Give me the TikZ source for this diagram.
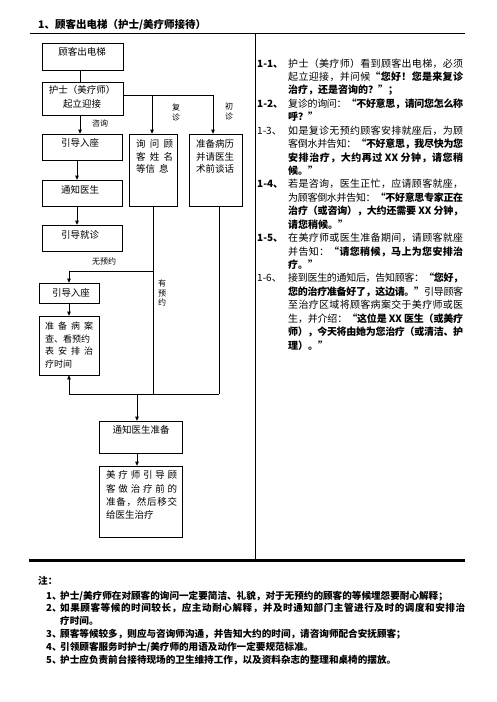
\documentclass[tikz,border=0pt]{standalone}
\usepackage{fontspec}
\setmainfont{Noto Sans CJK SC}
\usetikzlibrary{arrows.meta}
\newcount\cjkc
\cjkc="4E00
\loop \XeTeXcharclass\cjkc=1 \advance\cjkc by 1 \ifnum\cjkc<"A000 \repeat
\XeTeXcharclass"FF08=2 \XeTeXcharclass"201C=2
\XeTeXcharclass"FF0C=3 \XeTeXcharclass"3001=3 \XeTeXcharclass"3002=3
\XeTeXcharclass"FF1A=3 \XeTeXcharclass"FF1B=3 \XeTeXcharclass"FF01=3
\XeTeXcharclass"FF1F=3 \XeTeXcharclass"FF09=3 \XeTeXcharclass"201D=3
\XeTeXinterchartokenstate=1
\newcommand\cjkg{\hskip 0pt plus 4pt minus 0.7pt\relax}
\XeTeXinterchartoks 1 1 = {\cjkg}
\XeTeXinterchartoks 1 2 = {\cjkg}
\XeTeXinterchartoks 1 3 = {\cjkg}
\XeTeXinterchartoks 2 1 = {\cjkg}
\XeTeXinterchartoks 3 1 = {\cjkg}
\XeTeXinterchartoks 3 2 = {\cjkg}
\XeTeXinterchartoks 3 3 = {\cjkg}
\newcommand\jl[1]{\makebox[175pt][s]{#1}}
\newcommand\jw[2]{\makebox[#1pt][s]{#2}}
\newcommand\lab[1]{\makebox[31pt][l]{\textbf{#1}}}
\newcommand\labr[1]{\makebox[31pt][l]{#1}}
\newcommand\ind{\hspace*{31pt}}
\newcommand\gapx{\hspace{4pt}}
\newcommand\nnum[1]{\makebox[14pt][l]{#1}}
\tikzset{
  bx/.style={draw, line width=0.7pt, inner sep=0pt},
  ln/.style={line width=0.7pt},
  arr/.style={line width=0.7pt, -{Triangle[length=4pt,width=3.6pt]}},
  tx/.style={inner sep=0pt, font=\fontsize{9.5}{12.5}\selectfont},
  sm/.style={inner sep=0pt, align=center, font=\fontsize{8}{10}\selectfont},
}
\begin{document}
\begin{tikzpicture}[x=1pt,y=-1pt]
\useasboundingbox (0,0) rectangle (496,702);
% title and frame
\node[inner sep=0pt, anchor=west, font=\bfseries\fontsize{10.5}{12}\selectfont] (title) at (38,25) {1、顾客出电梯（护士/美疗师接待）};
\coordinate (tl) at (30,33); \coordinate (tr) at (465,33);
\coordinate (vt) at (255,33); \coordinate (vb) at (255,560);
\coordinate (bl) at (29,560); \coordinate (br) at (465,560);
\draw[line width=0.8pt] (tl) -- (tr);
\draw[line width=0.8pt] (vt) -- (vb);
\draw[line width=3pt] (bl) -- (br);
% boxes
\node[bx, minimum width=81pt, minimum height=27pt] (b1) at (82.5,56.5) {};
\node[bx, minimum width=81pt, minimum height=33pt] (b2) at (82.5,98.5) {};
\node[bx, minimum width=80pt, minimum height=26pt] (b3) at (82,147) {};
\node[bx, minimum width=80pt, minimum height=26pt] (b4) at (82,193) {};
\node[bx, minimum width=80pt, minimum height=26pt] (b5) at (82,238) {};
\node[bx, minimum width=48pt, minimum height=72pt] (b6) at (153,170) {};
\node[bx, minimum width=53pt, minimum height=72pt] (b7) at (215.5,170) {};
\node[bx, minimum width=60pt, minimum height=20pt] (b8) at (69,293) {};
\node[bx, minimum width=60pt, minimum height=59pt] (b9) at (69,345.5) {};
\node[bx, minimum width=83pt, minimum height=32pt] (b10) at (140.5,437) {};
\node[bx, minimum width=83pt, minimum height=71pt] (b11) at (140.5,501.5) {};
% box texts
\node[tx] (t1) at (82,52) {顾客出电梯};
\node[tx, anchor=north, align=center, font=\fontsize{9.5}{14}\selectfont] (t2) at (82,85.5) {护士（美疗师）\\起立迎接};
\node[tx] (t3) at (80,143) {引导入座};
\node[tx] (t4) at (80,190) {通知医生};
\node[tx] (t5) at (80,235) {引导就诊};
\node[tx, anchor=north west, align=left] (t6) at (136,139.5) {\jw{37}{询问顾}\\\jw{37}{客姓名}\\等信\gapx 息};
\node[tx, anchor=north west, align=left] (t7) at (196,139.5) {准备病历\\并请医生\\术前谈话};
\node[tx] (t8) at (71,293) {引导入座};
\node[tx, anchor=north west, align=left, font=\fontsize{9}{12.7}\selectfont] (t9) at (45,321.5) {\jw{48}{准备病案}\\查、看预约\\\jw{48}{表安排治}\\疗时间};
\node[tx] (t10) at (141,430) {通知医生准备};
\node[tx, anchor=north west, align=left, font=\fontsize{9.5}{13.3}\selectfont] (t11) at (106,470.5) {\jw{71}{美疗师引导顾}\\\jw{71}{客做治疗前的}\\\jw{71}{准备，然后移交}\\给医生治疗};
% small labels
\node[sm] (zx) at (100,123) {咨询};
\node[sm] (fz) at (176,112) {复\\诊};
\node[sm] (cz) at (229,111) {初\\诊};
\node[sm] (wy) at (104,261) {无预约};
\node[sm, font=\fontsize{8}{9.5}\selectfont] (yy) at (162,293) {有\\预\\约};
% connectors
\draw[ln] ([xshift=-2.5pt]b1.south) -- ([xshift=-2.5pt]b2.north);
\draw[arr] ([xshift=-2.5pt]b2.south) -- ([xshift=-2pt]b3.north);
\draw[arr] ([xshift=-5pt]b3.south) -- ([xshift=-5pt]b4.north);
\draw[arr] ([xshift=-5pt]b4.south) -- ([xshift=-5pt]b5.north);
\coordinate (j1) at (152,95);
\coordinate (j2) at (213,95);
\draw[ln] ([yshift=3.5pt]b2.east) -- (j2);
\draw[arr] (j1) -- (j1 |- b6.north);
\draw[arr] (j2) -- (j2 |- b7.north);
\coordinate (k1) at (69,394);
\coordinate (k2) at (219,394);
\coordinate (k4) at (137,394);
\coordinate (m1) at (153,271);
\draw[ln] (b6.south) -- (b6.south |- k1);
\draw[ln] (k2 |- b7.south) -- (k2);
\draw[arr] (k2) -- (k1) -- (b9.south);
\draw[arr] (m1) -- (m1 -| b8.north) -- (b8.north);
\draw[arr] (b8.south) -- (b9.north);
\draw[arr] (k4) -- (k4 |- b10.north);
\draw[arr] (k4 |- b10.south) -- (k4 |- b11.north);
% right text
\node[inner sep=0pt, anchor=north west, align=left, font=\fontsize{10}{13.43}\selectfont] (rt) at (257,58.3) {%
\lab{1-1、}\jl{护士（美疗师）看到顾客出电梯，必须}\\
\ind\jl{起立迎接，并问候\textbf{“您好！您是来复诊}}\\
\ind\textbf{治疗，还是咨询的？”；}\\
\lab{1-2、}\jl{复诊的询问：\textbf{“不好意思，请问您怎么称}}\\
\ind\textbf{呼？”}\\
\labr{1-3、}\jl{如是复诊无预约顾客安排就座后，为顾}\\
\ind\jl{客倒水并告知：\textbf{“不好意思，我尽快为您}}\\
\ind\jl{\textbf{安排治疗，大约再过 XX 分钟，请您稍}}\\
\ind\textbf{候。”}\\
\lab{1-4、}\jl{若是咨询，医生正忙，应请顾客就座，}\\
\ind\jl{为顾客倒水并告知：\textbf{“不好意思专家正在}}\\
\ind\jl{\textbf{治疗（或咨询），大约还需要 XX 分钟，}}\\
\ind\textbf{请您稍候。”}\\
\lab{1-5、}\jl{在美疗师或医生准备期间，请顾客就座}\\
\ind\jl{并告知：\textbf{“请您稍候，马上为您安排治}}\\
\ind\textbf{疗。”}\\
\labr{1-6、}\jl{接到医生的通知后，告知顾客：\textbf{“您好，}}\\
\ind\jl{\textbf{您的治疗准备好了，这边请。”}引导顾客}\\
\ind\jl{至治疗区域将顾客病案交于美疗师或医}\\
\ind\jl{生，并介绍：\textbf{“这位是 XX 医生（或美疗}}\\
\ind\jl{\textbf{师），今天将由她为您治疗（或清洁、护}}\\
\ind\textbf{理）。”}};
% notes
\node[inner sep=0pt, anchor=west, font=\bfseries\fontsize{9.6}{12}\selectfont] (zhu) at (38,581) {注：};
\node[inner sep=0pt, anchor=north west, align=left, font=\bfseries\fontsize{9.6}{12.8}\selectfont] (nt) at (46,590.5) {%
\nnum{1、}护士/美疗师在对顾客的询问一定要简洁、礼貌，对于无预约的顾客的等候埋怨要耐心解释；\\
\nnum{2、}\makebox[405pt][s]{如果顾客等候的时间较长，应主动耐心解释，并及时通知部门主管进行及时的调度和安排治}\\
\hspace*{14pt}疗时间。\\
\nnum{3、}顾客等候较多，则应与咨询师沟通，并告知大约的时间，请咨询师配合安抚顾客；\\
\nnum{4、}引领顾客服务时护士/美疗师的用语及动作一定要规范标准。\\
\nnum{5、}护士应负责前台接待现场的卫生维持工作，以及资料杂志的整理和桌椅的摆放。};
\end{tikzpicture}
\end{document}
